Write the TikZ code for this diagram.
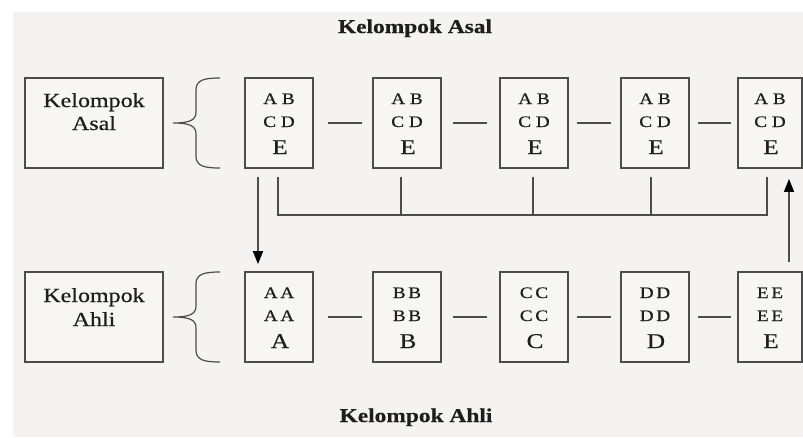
\documentclass[tikz,border=0pt]{standalone}
\usepackage{fontspec}
\setmainfont{Liberation Serif}[FakeStretch=1.2, FakeBold=0.5]
\usetikzlibrary{arrows.meta,calc}
\definecolor{bg}{HTML}{F5F3F1}
\definecolor{boxfill}{HTML}{F7F6F4}
\definecolor{edge}{HTML}{4C4C4C}
\definecolor{ink}{HTML}{1E1E1E}
\begin{document}
\begin{tikzpicture}[x=1pt,y=-1pt,
  cellbox/.style={draw=edge, line width=1.7pt, fill=boxfill, minimum width=68pt, minimum height=90pt, inner sep=0pt},
  labelbox/.style={draw=edge, line width=1.7pt, fill=boxfill, minimum width=138pt, minimum height=90pt, inner sep=0pt},
  smalltxt/.style={anchor=base, inner sep=0pt, text=ink, font=\fontsize{16}{16}\selectfont},
  bigtxt/.style={anchor=base, inner sep=0pt, text=ink, font=\fontsize{21}{21}\selectfont},
  lbltxt/.style={anchor=base, inner sep=0pt, text=ink, font=\fontsize{20}{20}\selectfont},
  ttltxt/.style={anchor=base, inner sep=0pt, text=ink, font=\fontsize{19.5}{19.5}\selectfont\bfseries},
  link/.style={draw=edge, line width=1.4pt},
  arr/.style={link, -{Triangle[width=10pt,length=13pt,color=black]}},
]
\useasboundingbox (0,0) rectangle (803,437);
\fill[white] (0,0) rectangle (803,437);
\fill[bg] (13,12) rectangle (803,437);

% titles
\node[ttltxt] (title1) at (415,33) {Kelompok Asal};
\node[ttltxt] (title2) at (416,422) {Kelompok Ahli};

% left label boxes
\node[labelbox] (asal) at (94,123) {};
\node[lbltxt] (asal1) at (94,107) {Kelompok};
\node[lbltxt] (asal2) at (94,130) {Asal};
\node[labelbox] (ahli) at (94,317) {};
\node[lbltxt] (ahli1) at (94,302) {Kelompok};
\node[lbltxt] (ahli2) at (94,326) {Ahli};

% braces
\foreach \yc in {123,317} {
  \draw[link, line width=1.2pt] (220,\yc-45) .. controls (204,\yc-45) and (196,\yc-43) .. (196,\yc-33)
    -- (196,\yc-11) .. controls (196,\yc-3) and (190,\yc) .. (173,\yc)
    .. controls (190,\yc) and (196,\yc+3) .. (196,\yc+11)
    -- (196,\yc+33) .. controls (196,\yc+43) and (204,\yc+45) .. (220,\yc+45);
}

% cell boxes
\foreach \i/\x/\w/\L in {1/279/68pt/A, 2/407/68pt/B, 3/534/68pt/C, 4/655/68pt/D, 5/770/64pt/E} {
  \node[cellbox, minimum width=\w] (t\i) at (\x,123) {};
  \node[smalltxt] (t\i-a) at ($(t\i)+(0,-19)$) {A B};
  \node[smalltxt] (t\i-b) at ($(t\i)+(0,4)$) {C D};
  \node[bigtxt] (t\i-c) at ($(t\i)+(1,31)$) {E};
  \node[cellbox, minimum width=\w] (h\i) at (\x,317) {};
  \node[smalltxt] (h\i-a) at ($(h\i)+(0,-19)$) {\L\,\L};
  \node[smalltxt] (h\i-b) at ($(h\i)+(0,4)$) {\L\,\L};
  \node[bigtxt] (h\i-c) at ($(h\i)+(1,31)$) {\L};
}

% dashes between boxes
\foreach \a/\b/\s/\e in {1/2/14/10, 2/3/11/12, 3/4/8/9, 4/5/8/6} {
  \draw[link, shorten <=\s pt, shorten >=\e pt] (t\a.east) -- (t\b.west);
  \draw[link, shorten <=\s pt, shorten >=\e pt] (h\a.east) -- (h\b.west);
}

% bus connector under top row
\coordinate (busL) at (278,215);
\coordinate (busR) at (767,215);
\draw[link] ($(t1.south)+(-1,8)$) -- (busL) -- (busR) -- ($(t5.south)+(-3,8)$);
\draw[link] ($(t2.south)+(-6,8)$) -- ($(t2.south)+(-6,47)$);
\draw[link] ($(t3.south)+(-1,8)$) -- ($(t3.south)+(-1,47)$);
\draw[link] ($(t4.south)+(-4,8)$) -- ($(t4.south)+(-4,47)$);

% arrows
\draw[arr] ($(t1.south)+(-21,8)$) -- ($(h1.north)+(-21,-7)$);
\draw[arr] ($(h5.north)+(19,-9)$) -- ($(t5.south)+(19,10)$);
\end{tikzpicture}
\end{document}
